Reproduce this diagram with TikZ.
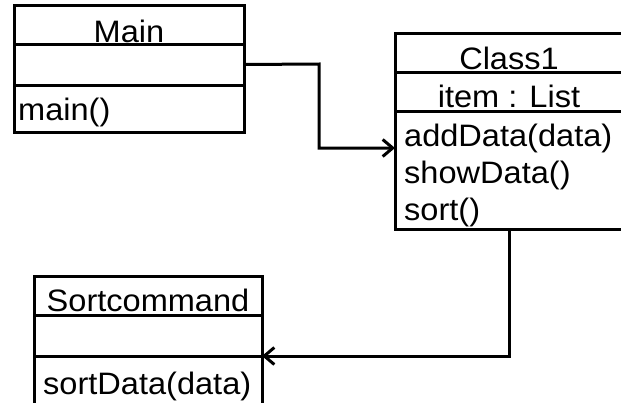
\documentclass[tikz,border=0pt]{standalone}
\usepackage{fontspec}
\setmainfont[FakeStretch=1.05]{Liberation Sans}
\usetikzlibrary{arrows.meta,positioning,calc}

\begin{document}
\begin{tikzpicture}[x=1pt, y=-1pt,
  part/.style={draw, line width=3pt, inner sep=0pt, outer sep=0pt, anchor=north west},
  lbl/.style={inner sep=0pt, font=\fontsize{31}{37}\selectfont},
  conn/.style={line width=3pt, -{Straight Barb[length=10pt, width=17pt, line width=3pt]}}]

\clip (0,0) rectangle (621,402);
\fill[white] (0,0) rectangle (621,402);

% Main class
\node[part, minimum width=230pt, minimum height=39pt] (main-name) at (14,5) {};
\node[part, minimum width=230pt, minimum height=41pt] (main-attr) at (14,44) {};
\node[part, minimum width=230pt, minimum height=47pt] (main-ops) at (14,85) {};
\node[lbl, anchor=base] (main-title) at (129,42) {Main};
\node[lbl, anchor=base west] (main-m1) at (18,120) {main()};

% Class1
\node[part, minimum width=228pt, minimum height=39pt] (cls-name) at (395,33) {};
\node[part, minimum width=228pt, minimum height=39pt] (cls-attr) at (395,72) {};
\node[part, minimum width=228pt, minimum height=118pt] (cls-ops) at (395,111) {};
\node[lbl, anchor=base] (cls-title) at (509,69) {Class1};
\node[lbl, anchor=base] (cls-item) at (509,107) {item : List};
\node[lbl, anchor=base west] (cls-m1) at (404,146) {addData(data)};
\node[lbl, anchor=base west] (cls-m2) at (404,183) {showData()};
\node[lbl, anchor=base west] (cls-m3) at (404,220) {sort()};

% Sortcommand
\node[part, minimum width=228pt, minimum height=39pt] (srt-name) at (34,276) {};
\node[part, minimum width=228pt, minimum height=41pt] (srt-attr) at (34,315) {};
\node[part, minimum width=228pt, minimum height=70pt] (srt-ops) at (34,356) {};
\node[lbl, anchor=base] (srt-title) at (148,311) {Sortcommand};
\node[lbl, anchor=base west] (srt-m1) at (43,394) {sortData(data)};

% connectors
\coordinate (bend) at (319,64);
\draw[conn] (main-attr.east) -- (bend) |- ($(cls-ops.north west)+(0,37)$);
\draw[conn] (cls-ops.south) |- (srt-attr.south east);

\end{tikzpicture}
\end{document}
